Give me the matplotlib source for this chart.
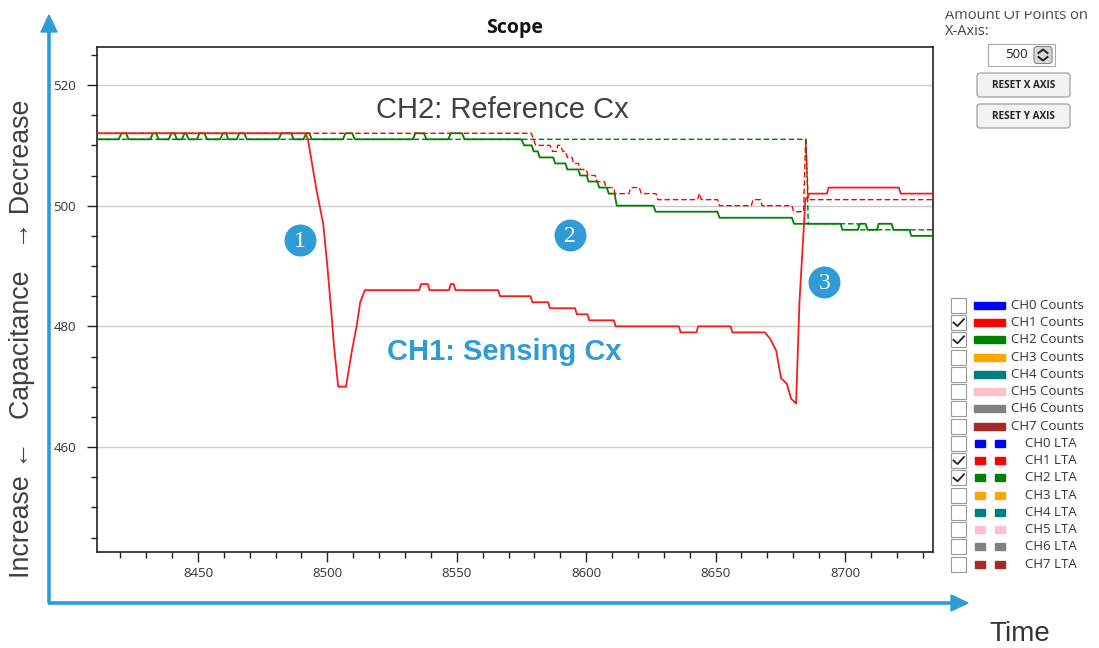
import matplotlib.pyplot as plt
from matplotlib.patches import Rectangle, FancyBboxPatch, Polygon
from matplotlib.ticker import MultipleLocator

# ---- data ----
x_range = [8411, 8734]
y_range = [442.6, 526.3]

# CH1 counts (sensing electrode)
ch1_x = [8411, 8491.5, 8492.5, 8495.8, 8498.4, 8500.0, 8501.8, 8502.5, 8504.2, 8507.2,
         8509.5, 8511.3, 8512.7, 8514.5, 8535.5, 8536.2, 8538.8, 8539.5, 8547.0, 8547.7,
         8548.8, 8549.5, 8566.0, 8566.7, 8578.5, 8579.2, 8585.3, 8586.0, 8595.7, 8596.4,
         8600.5, 8601.2, 8610.7, 8611.4, 8635.8, 8636.5, 8642.6, 8643.3, 8655.8, 8656.5,
         8669.0, 8671.0, 8673.4, 8675.3, 8677.5, 8679.2, 8681.1, 8682.4, 8684.7, 8686.3,
         8693.0, 8693.7, 8720.8, 8721.5, 8734]
ch1_y = [512, 512, 511, 502.6, 497, 490, 481, 477, 470, 470,
         476, 480, 484, 486, 486, 487, 487, 486, 486, 487,
         487, 486, 486, 485, 485, 484, 484, 483, 483, 482,
         482, 481, 481, 480, 480, 479, 479, 480, 480, 479,
         479, 478, 476, 471.4, 470.5, 468, 467.2, 484, 501, 502,
         502, 503, 503, 502, 502]

# CH1 LTA (follows the reference drift)
ch1_lta_x = [8411, 8578.8, 8580.5, 8586, 8587, 8588.5, 8589, 8590, 8591, 8592,
             8592.7, 8594.5, 8595.2, 8597, 8597.7, 8600, 8600.7, 8603.5, 8604.2, 8607,
             8607.7, 8610.5, 8611.2, 8616.5, 8617.3, 8620.5, 8621.3, 8627, 8627.7, 8643.0,
             8643.8, 8644.5, 8650.8, 8651.5, 8663.8, 8664.5, 8667.3, 8668, 8679.5, 8680.2,
             8684.0, 8684.8, 8685.8, 8734]
ch1_lta_y = [512, 512, 510, 510, 509, 509, 510, 510, 509, 509,
             508, 508, 507, 507, 506, 506, 505, 505, 504, 504,
             503, 503, 502, 502, 503, 503, 502, 502, 501, 501,
             502, 501, 501, 500, 500, 501, 501, 500, 500, 499,
             499, 511, 501, 501]

# CH2 counts (reference electrode): flat part with one-count bumps, then drift
ch2_base = 511
ch2_bumps = [(8419.4, 8423.2), (8431.6, 8434.8), (8438.7, 8441.9), (8443.8, 8446.4),
             (8449.6, 8453.5), (8458.6, 8461.8), (8465.0, 8468.9), (8481.2, 8487.0),
             (8490.8, 8494.0), (8506.0, 8510.6), (8533.0, 8538.3), (8546.7, 8553.0)]
ch2_drift_x = [8575, 8576, 8579, 8579.7, 8581.3, 8582, 8587.3, 8588, 8592, 8592.7,
               8597, 8597.7, 8600.2, 8600.9, 8604.3, 8605, 8608, 8608.7, 8611, 8611.8,
               8626, 8626.8, 8650.7, 8651.5, 8679.5, 8680.3, 8698.3, 8699, 8705, 8705.7,
               8708, 8708.7, 8712.4, 8713, 8718, 8718.7, 8724.9, 8725.6, 8734]
ch2_drift_y = [511, 510, 510, 509, 509, 508, 508, 507, 507, 506,
               506, 505, 505, 504, 504, 503, 503, 502, 502, 500,
               500, 499, 499, 498, 498, 497, 497, 496, 496, 497,
               497, 496, 496, 497, 497, 496, 496, 495, 495]

# CH2 LTA
ch2_lta_x = [8411, 8685.0, 8685.8, 8705, 8705.7, 8734]
ch2_lta_y = [511, 511, 497, 497, 496, 496]

# legend panel
legend_names = ['CH0 Counts', 'CH1 Counts', 'CH2 Counts', 'CH3 Counts', 'CH4 Counts',
                'CH5 Counts', 'CH6 Counts', 'CH7 Counts', 'CH0 LTA', 'CH1 LTA', 'CH2 LTA',
                'CH3 LTA', 'CH4 LTA', 'CH5 LTA', 'CH6 LTA', 'CH7 LTA']
legend_checked = [False, True, True, False, False, False, False, False,
                  False, True, True, False, False, False, False, False]
channel_colors = ['#0000ff', '#ff0000', '#008000', '#ffa500', '#008080', '#ffc0cb',
                  '#808080', '#a52a2a']

# callouts
markers = ['1', '2', '3']
marker_x = [8489.4, 8593.6, 8692.0]
marker_y = [494.3, 495.1, 487.3]

blue = '#2f9bd7'
txt = '#404040'
sans = ['Liberation Sans', 'DejaVu Sans']
ui_font = ['Open Sans', 'DejaVu Sans']

# build CH2 counts polyline
ch2_x, ch2_y = [x_range[0]], [ch2_base]
for a, b in ch2_bumps:
    ch2_x += [a, a + 1.0, b - 1.0, b]
    ch2_y += [ch2_base, ch2_base + 1, ch2_base + 1, ch2_base]
ch2_x += ch2_drift_x
ch2_y += ch2_drift_y

W, H = 1099, 648
fig = plt.figure(figsize=(W / 100, H / 100), dpi=100)
ax = fig.add_axes([97 / W, 1 - 552 / H, (933 - 97) / W, (552 - 47) / H])

ax.plot(ch2_lta_x, ch2_lta_y, color='green', lw=1.0, ls=(0, (4, 2)), zorder=2)
ax.plot(ch2_x, ch2_y, color='green', lw=1.3, zorder=3)
ax.plot(ch1_lta_x, ch1_lta_y, color='red', lw=1.0, ls=(0, (4, 2)), zorder=4)
ax.plot(ch1_x, ch1_y, color='#f21e1e', lw=1.3, zorder=5)

ax.set_xlim(x_range)
ax.set_ylim(y_range)
ax.set_xticks([8450, 8500, 8550, 8600, 8650, 8700])
ax.set_yticks([460, 480, 500, 520])
ax.xaxis.set_minor_locator(MultipleLocator(10))
ax.yaxis.set_minor_locator(MultipleLocator(5))
ax.tick_params(which='major', length=7, width=1, color='#222', labelsize=9.5,
               labelcolor='#333')
ax.tick_params(which='minor', length=4, width=1, color='#222')
ax.tick_params(axis='x', pad=4)
ax.tick_params(axis='y', pad=8)
for lab in ax.get_xticklabels() + ax.get_yticklabels():
    lab.set_family(ui_font)
ax.yaxis.grid(True, color='#cccccc', lw=1)
ax.set_axisbelow(True)
for s in ax.spines.values():
    s.set_color('#222')
    s.set_linewidth(1.2)

# callouts and channel captions
for lab, mx, my in zip(markers, marker_x, marker_y):
    ax.plot(mx, my, 'o', ms=23, color=blue, mec='none', zorder=6)
    ax.text(mx, my - 0.2, lab, color='white', fontsize=17, ha='center', va='center',
            family=['Liberation Serif', 'DejaVu Serif'], zorder=7)
ax.text(8567.8, 515.9, 'CH2: Reference Cx', fontsize=21, color=txt, ha='center',
        va='center', family=sans)
ax.text(8568.5, 475.7, 'CH1: Sensing Cx', fontsize=21, color=blue, ha='center',
        va='center', family=sans, fontweight='bold')

# overlay in pixel coordinates for the surrounding UI
ui = fig.add_axes([0, 0, 1, 1], zorder=5)
ui.set_xlim(0, W)
ui.set_ylim(H, 0)
ui.axis('off')
ui.patch.set_alpha(0)

ui.text(515, 28, 'Scope', fontsize=14, fontweight='bold', ha='center', va='center',
        family=ui_font, color='#111')

# blue axes arrows
ui.plot([49, 49], [603, 30], color=blue, lw=2.6, solid_capstyle='butt')
ui.add_patch(Polygon([(41, 32), (57, 32), (49, 15)], closed=True, color=blue))
ui.plot([48, 953], [603, 603], color=blue, lw=2.6, solid_capstyle='butt')
ui.add_patch(Polygon([(951, 595), (951, 611), (968, 603)], closed=True, color=blue))
ui.text(22, 339, 'Increase \u2190   Capacitance   \u2192 Decrease', rotation=90,
        fontsize=19.3, color=txt, ha='center', va='center', family=sans)
ui.text(1020, 634, 'Time', fontsize=20, color='#333', ha='center', va='center',
        family=sans)

# top-right controls
ui.text(945, 19, 'Amount Of Points on', fontsize=10.5, color='#444', ha='left',
        va='baseline', family=ui_font)
ui.add_patch(Rectangle((930, 0), 169, 10, color='white', zorder=3))
ui.text(945, 35, 'X-Axis:', fontsize=10.5, color='#444', ha='left', va='baseline',
        family=ui_font)
ui.add_patch(Rectangle((988, 44), 67, 22, fc='white', ec='#aaa', lw=0.8))
ui.text(1028, 55, '500', fontsize=9.5, color='#222', ha='right', va='center',
        family=ui_font)
ui.add_patch(FancyBboxPatch((1034, 46.5), 18, 17, boxstyle='round,pad=0,rounding_size=3',
                            fc='#d8d8d8', ec='#888', lw=0.8))
ui.plot([1038.5, 1043, 1047.5], [53, 49.5, 53], color='#222', lw=1.4)
ui.plot([1038.5, 1043, 1047.5], [57, 60.5, 57], color='#222', lw=1.4)
for by, lab in [(73, 'RESET X AXIS'), (104, 'RESET Y AXIS')]:
    ui.add_patch(FancyBboxPatch((977, by), 93, 24, boxstyle='round,pad=0,rounding_size=3',
                                fc='#f2f2f2', ec='#a0a0a0', lw=0.9))
    ui.text(1023.5, by + 12.5, lab, fontsize=7.2, fontweight='bold', color='#222',
            ha='center', va='center', family=ui_font)

# channel legend
for i, (name, chk) in enumerate(zip(legend_names, legend_checked)):
    yc = 305.3 + i * 17.25
    col = channel_colors[i % 8]
    ui.add_patch(Rectangle((951, yc - 7.5), 15, 15, fc='white', ec='#999', lw=0.8))
    if chk:
        ui.plot([953.5, 957.5, 964], [yc, yc + 3.5, yc - 3.5], color='#222', lw=1.3)
    if i < 8:
        ui.add_patch(Rectangle((974, yc - 3.5), 31, 7, color=col))
        ui.text(1011, yc, name, fontsize=9.5, color='#333', ha='left', va='center',
                family=ui_font)
    else:
        ui.add_patch(Rectangle((975, yc - 3.5), 10, 7, color=col))
        ui.add_patch(Rectangle((995, yc - 3.5), 10, 7, color=col))
        ui.text(1025, yc, name, fontsize=9.5, color='#333', ha='left', va='center',
                family=ui_font)

fig.savefig('out.png', dpi=100)
